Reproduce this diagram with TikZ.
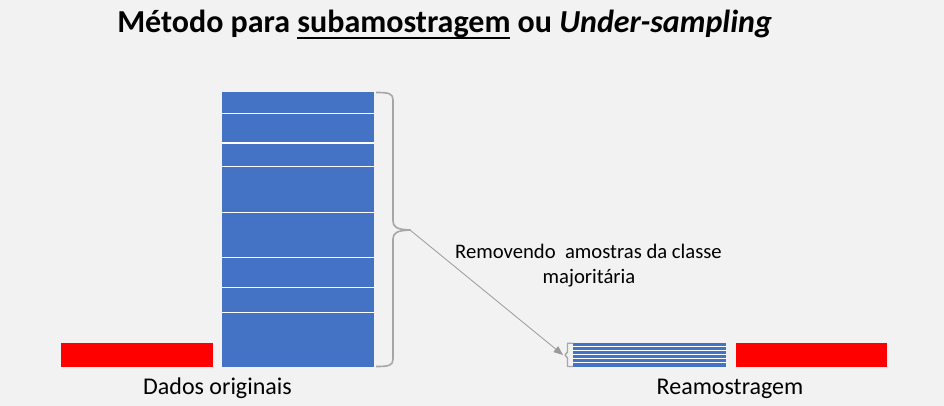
\documentclass[tikz,border=0pt]{standalone}
\usepackage{fontspec}
\setmainfont{Carlito}
\usetikzlibrary{arrows.meta}
\definecolor{bg}{HTML}{F2F2F2}
\definecolor{blu}{HTML}{4472C4}
\definecolor{redd}{HTML}{FF0000}
\definecolor{bracegray}{HTML}{A6A6A6}
\definecolor{arrgray}{HTML}{9A9A9A}
\newcommand\ulword[1]{\setbox0\hbox{#1}\rlap{\rule[-0.2em]{\wd0}{0.06em}}\box0\relax}
\tikzset{
  bar/.style={inner sep=0pt, outer sep=0pt, anchor=north west, minimum height=18pt},
  redbar/.style={bar, fill=redd, minimum width=114pt},
  blubar/.style={bar, fill=blu, minimum width=114pt},
  sepline/.style={draw=white, line width=0.9pt},
  bracestyle/.style={draw=bracegray, line width=1.2pt, line join=round},
  arr/.style={draw=arrgray, line width=0.6pt, -{Triangle[length=7pt,width=5.5pt]}},
  lbl/.style={inner sep=0pt, anchor=base, text=black},
}
\begin{document}
\begin{tikzpicture}[x=0.75pt,y=-0.75pt]
\useasboundingbox[fill=bg] (0,0) rectangle (944,406);
% title
\node[inner sep=0pt, anchor=base west] (title) at (117,33)
  {\fontsize{24pt}{28pt}\selectfont\bfseries Método para \ulword{subamostragem} ou \textit{Under-sampling}};
% original data
\node[redbar] (red1) at (61,343) {};
\node[blubar, minimum height=206.25pt] (orig) at (222,92) {};
\foreach \yy in {113.3,143,166.3,212.3,257.3,287.3,312.3}
  \draw[sepline] (222,\yy) -- (374,\yy);
% brace
\draw[bracestyle] (376,92.5) .. controls (389,92.5) and (393,93.5) .. (393,100)
  -- (393,221) .. controls (393,227) and (397,229.5) .. (410,230)
  .. controls (397,230.5) and (393,233) .. (393,239)
  -- (393,359) .. controls (393,365.5) and (389,366.5) .. (376,366.5);
\coordinate (btip) at (410,230);
% resampled
\node[blubar, minimum width=114.3pt] (small) at (573.3,342.7) {};
\foreach \yy in {346.7,350.7,354.7,358.7,362.7}
  \draw[sepline] (573.3,\yy) -- (725.7,\yy);
\node[redbar, minimum width=113.25pt] (red2) at (736,343) {};
\draw[draw=bracegray, line width=1pt, line join=round]
  (573,343.2) -- (567.5,343.2) -- (567.5,352) -- (565,355) -- (567.5,358) -- (567.5,366.5) -- (573,366.5);
\coordinate (stip) at (563,355);
\draw[arr] (btip) -- (stip);
% labels
\node[lbl, font=\fontsize{15.5pt}{18.6pt}\selectfont] (txt1) at (588.5,258.5) {Removendo~~amostras da classe};
\node[lbl, font=\fontsize{15.5pt}{18.6pt}\selectfont] (txt2) at (589,283.3) {majoritária};
\node[lbl, font=\fontsize{18pt}{21.6pt}\selectfont] (lab1) at (217.5,394) {Dados originais};
\node[lbl, font=\fontsize{18pt}{21.6pt}\selectfont] (lab2) at (730,394) {Reamostragem};
\end{tikzpicture}
\end{document}
